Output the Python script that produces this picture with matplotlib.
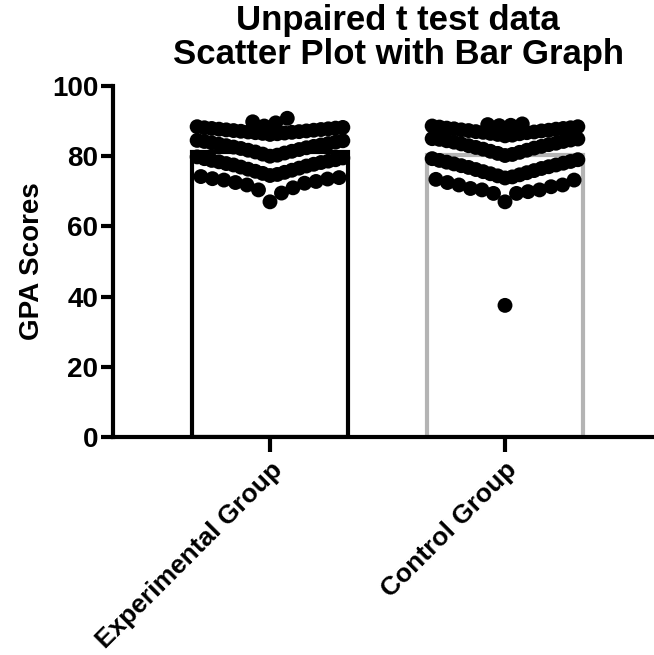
import numpy as np
import matplotlib
matplotlib.use("Agg")
import matplotlib.pyplot as plt

plt.rcParams['font.family'] = ['Liberation Sans', 'DejaVu Sans']
plt.rcParams['font.weight'] = 'bold'

# ---------------- data ----------------
categories = ["Experimental Group", "Control Group"]
bar_means = [81.1, 80.2]

experimental_scores = [
    # lowest row
    67.0, 69.5, 70.4, 71.0, 71.8, 72.3, 72.5, 72.8, 73.2, 73.5, 73.6, 73.9, 74.2,
    # third band
    74.5, 74.8, 75.1, 75.4, 75.7, 76.0, 76.3, 76.6, 76.9, 77.2, 77.5, 77.7, 77.9,
    78.2, 78.4, 78.6, 78.8, 79.0, 79.3, 79.5, 79.8,
    # second band
    80.0, 80.3, 80.6, 80.9, 81.2, 81.4, 81.7, 81.9, 82.2, 82.4, 82.6, 82.8, 83.0,
    83.2, 83.4, 83.6, 83.8, 84.0, 84.2, 84.4, 84.5,
    # top band
    86.2, 86.4, 86.5, 86.6, 86.7, 86.8, 86.9, 87.0, 87.1, 87.2, 87.3, 87.4, 87.5,
    87.6, 87.7, 87.8, 87.9, 88.0, 88.1, 88.2, 88.4,
    # highest
    88.6, 89.5, 89.8, 90.8,
]

control_scores = [
    37.5,
    # lowest row
    67.0, 69.4, 69.4, 69.9, 70.4, 70.4, 70.8, 71.3, 71.8, 71.8, 72.5, 73.2, 73.4,
    # third band
    73.8, 74.1, 74.4, 74.7, 75.0, 75.3, 75.6, 75.9, 76.2, 76.5, 76.8, 77.0, 77.3,
    77.5, 77.8, 78.0, 78.3, 78.5, 78.8, 79.0, 79.3,
    # second band
    80.2, 80.5, 80.8, 81.1, 81.4, 81.7, 82.0, 82.3, 82.5, 82.8, 83.0, 83.3, 83.5,
    83.7, 84.0, 84.2, 84.4, 84.6, 84.8, 84.9, 85.0,
    # top band
    85.8, 86.0, 86.2, 86.4, 86.5, 86.7, 86.8, 86.9, 87.0, 87.2, 87.3, 87.4, 87.5,
    87.7, 87.8, 87.9, 88.0, 88.1, 88.3, 88.4, 88.6,
    # highest
    88.7, 88.8, 89.0, 89.2,
]

# ---------------- layout helpers (Prism-like scatter) ----------------
row_edges = {
    0: [0, 60, 74.35, 79.9, 85.3, 88.55, 100],
    1: [0, 60, 73.6, 79.6, 85.5, 88.65, 100],
}
DOT_STEP = 0.049     # horizontal step between neighbouring dots (data units)
HALF_WIDTH = 0.31    # maximum half width of the scatter


def prism_layout(values, center, edges):
    vals = np.sort(np.asarray(values, dtype=float))
    xs, ys = [], []
    idx = np.digitize(vals, edges)
    for b in np.unique(idx):
        row = vals[idx == b]
        n = len(row)
        if n % 2 == 1:
            slots = [0]
            for k in range(1, n):
                m = (k + 1) // 2
                slots.append(m if k % 2 == 1 else -m)
            maxslot = (n - 1) / 2
        else:
            slots = []
            for k in range(n):
                m = k // 2 + 0.5
                slots.append(-m if k % 2 == 0 else m)
            maxslot = n / 2 - 0.5
        step = DOT_STEP if maxslot == 0 else min(DOT_STEP, HALF_WIDTH / maxslot)
        for v, s in zip(row, slots):
            xs.append(center + s * step)
            ys.append(v)
    return np.array(xs), np.array(ys)


# ---------------- figure ----------------
W, H = 654, 655
fig = plt.figure(figsize=(W / 100, H / 100), dpi=100)
ax = fig.add_axes([113 / W, 1 - 437 / H, (W - 113) / W, (437 - 86) / H])

positions = np.arange(len(categories))
edge_colors = ["black", "#b4b4b4"]
ax.bar(positions, bar_means, width=0.665, color="white", edgecolor=edge_colors,
       linewidth=3, zorder=1)

for i, scores in enumerate([experimental_scores, control_scores]):
    xs, ys = prism_layout(scores, positions[i], row_edges[i])
    ax.scatter(xs, ys, s=115, color="black", edgecolors="none", zorder=3)

ax.set_xlim(-0.668, 1.634)
ax.set_ylim(0, 100)
ax.set_yticks([0, 20, 40, 60, 80, 100])
ax.set_xticks(positions)
ax.set_xticklabels(categories, rotation=45, ha="right", va="top",
                   rotation_mode="anchor", fontsize=19, fontweight="bold")
for lab in ax.get_yticklabels():
    lab.set_fontsize(20)
    lab.set_fontweight("bold")

for side in ["top", "right"]:
    ax.spines[side].set_visible(False)
for side in ["left", "bottom"]:
    ax.spines[side].set_linewidth(3)
ax.tick_params(axis="y", length=8.5, width=3, pad=2)
ax.tick_params(axis="x", length=11, width=3, pad=4)

ax.set_ylabel("GPA Scores", fontsize=20, fontweight="bold", labelpad=5)
fig.text(398 / W, 1 - 4 / H, "Unpaired t test data\nScatter Plot with Bar Graph",
         ha="center", va="top", fontsize=25, fontweight="bold", linespacing=1.05)

fig.savefig("out.png", dpi=100)
